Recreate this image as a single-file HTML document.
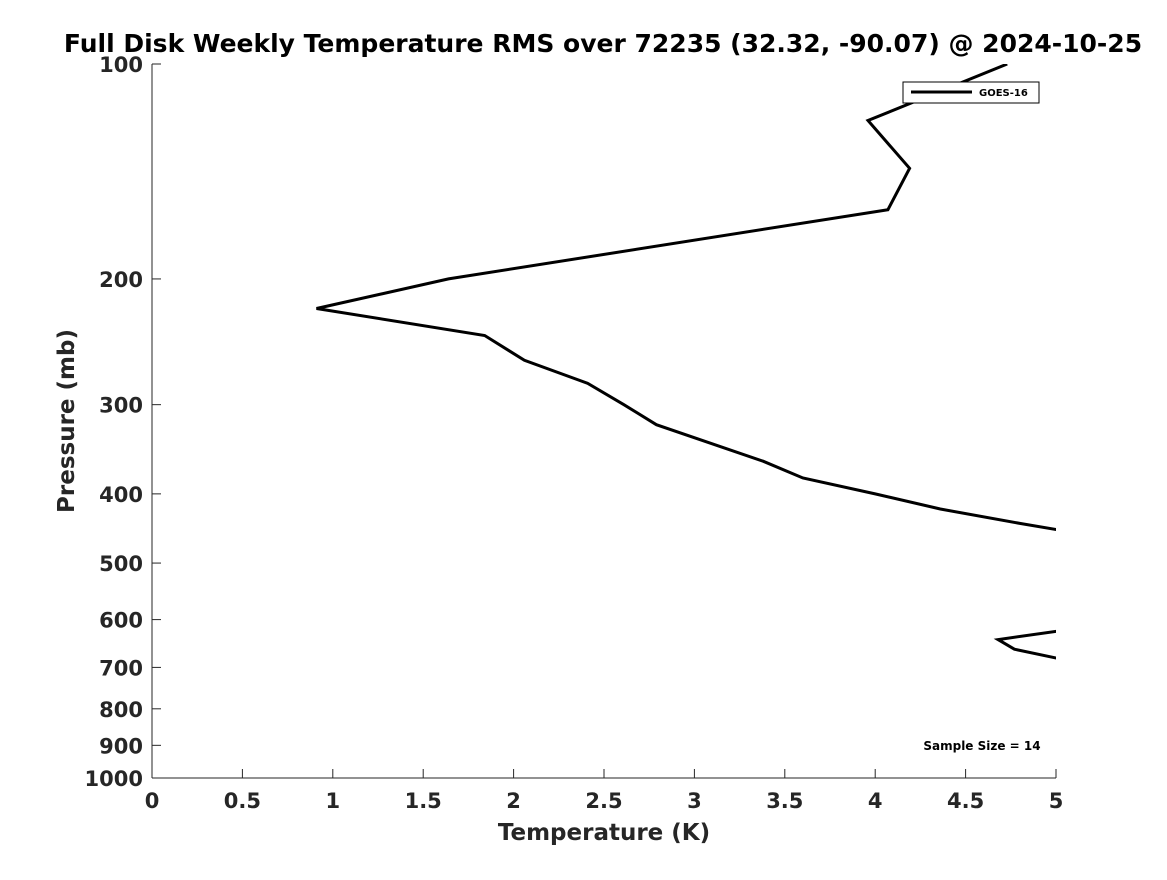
<!DOCTYPE html>
<html><head><meta charset="utf-8"><style>
body{margin:0;background:#fff;}
svg text{font-family:"DejaVu Sans","Liberation Sans",sans-serif;font-weight:bold;}
</style></head><body>
<svg id="chart" width="1167" height="875">
<defs><clipPath id="clip"><rect x="152" y="64" width="904" height="714"/></clipPath></defs>
<text x="603" y="52" text-anchor="middle" font-size="25" fill="#000">Full Disk Weekly Temperature RMS over 72235 (32.32, -90.07) @ 2024-10-25</text>
<g id="axes"></g>
<g id="series" clip-path="url(#clip)"></g>
<g>
<rect x="903" y="82" width="136" height="21" fill="#fff" stroke="#000" stroke-width="1"/>
<line x1="911" y1="92" x2="972" y2="92" stroke="#000" stroke-width="3"/>
<text x="979" y="96" font-size="10" fill="#000">GOES-16</text>
</g>
<text x="982" y="750" text-anchor="middle" font-size="12" fill="#000">Sample Size = 14</text>
<text x="604" y="840" text-anchor="middle" font-size="23" fill="#262626">Temperature (K)</text>
<text transform="translate(74,421) rotate(-90)" text-anchor="middle" font-size="23" fill="#262626">Pressure (mb)</text>
</svg>
<script>
const pressures=[100,120,140,160,200,220,240,260,280,300,320,360,380,400,420,440,460,500,550,600,620,640,660,680,700,750,800];
const temps=[4.73,3.96,4.19,4.07,1.64,0.91,1.84,2.06,2.41,2.61,2.79,3.38,3.60,4.00,4.36,4.80,5.25,6.0,6.2,5.8,5.06,4.68,4.77,5.01,5.6,6.0,6.2];
const xTicks=[0,0.5,1,1.5,2,2.5,3,3.5,4,4.5,5];
const yTicks=[100,200,300,400,500,600,700,800,900,1000];
const NS='http://www.w3.org/2000/svg';
const x=v=>152+v*(904/5);
const y=p=>64+Math.log10(p/100)*714;
const axes=document.getElementById('axes');
function mk(tag,attrs,parent){const e=document.createElementNS(NS,tag);for(const k in attrs)e.setAttribute(k,attrs[k]);parent.appendChild(e);return e;}
const xl=mk('line',{x1:152,y1:778,x2:1056,y2:778,stroke:'#262626','stroke-width':1},axes);


const yl=mk('line',{x1:152,y1:64,x2:152,y2:778,stroke:'#262626','stroke-width':1},axes);


xTicks.forEach(t=>{
 const tk=mk('line',{x1:x(t),y1:778,x2:x(t),y2:769,stroke:'#262626'},axes);
 
 
 const tx=mk('text',{x:x(t),y:808,'text-anchor':'middle','font-size':21,fill:'#262626'},axes);
 tx.textContent=String(t);
 
 
});
yTicks.forEach(t=>{
 const tk=mk('line',{x1:152,y1:y(t),x2:161,y2:y(t),stroke:'#262626'},axes);
 
 
 const tx=mk('text',{x:143,y:y(t)+8,'text-anchor':'end','font-size':21,fill:'#262626'},axes);
 tx.textContent=String(t);
 
 
});
const pts=pressures.map((p,i)=>x(temps[i]).toFixed(1)+','+y(p).toFixed(1)).join(' ');
const pl=mk('polyline',{points:pts,fill:'none',stroke:'#000','stroke-width':3,'stroke-linejoin':'miter'},document.getElementById('series'));


</script>
</body></html>
